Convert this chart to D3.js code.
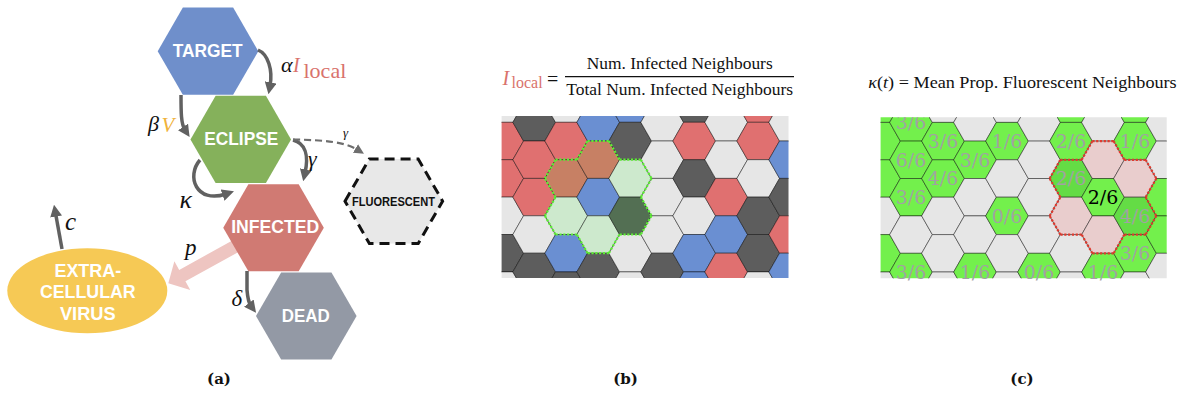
<!DOCTYPE html>
<html><head><meta charset="utf-8">
<script src="https://cdn.jsdelivr.net/npm/d3@7"></script>
<style>body{margin:0;background:#fff}svg{display:block}</style>
</head><body><div id="chart"></div>
<script>
// ---------------- DATA ----------------
// Panel (a) compartments
const compartments = ["TARGET", "ECLIPSE", "INFECTED", "DEAD"];
const extraNode = "FLUORESCENT";
const virusLines = ["EXTRA-", "CELLULAR", "VIRUS"];
// Panel (b) grid: one string per column, top to bottom. G=target(grey) R=infected B=eclipse D=dead
const gridB = ["GRRGDG", "DRRGD", "GRRGBD", "BRBGD", "BDGDGG", "GGGGD", "DRDGBB", "GGRBR", "RRGDDG", "GBDRB"];
const centerB = [3, 2];
// Panel (c) grid: F=fluorescent N=not fluorescent
const gridC = ["FFFNFN", "FFFNF", "NFFNNN", "NFNNF", "NFNFNN", "NNNNF", "FFFNNN", "NNFNF", "FFNFFN", "NNFFN"];
const centerC = [7, 2];
const labelsC = [[1,0,"3/6"],[1,1,"6/6"],[1,2,"3/6"],[1,4,"3/6"],[2,1,"3/6"],[2,2,"4/6"],[3,1,"3/6"],[3,4,"1/6"],
  [4,1,"1/6"],[4,3,"0/6"],[5,4,"0/6"],[6,1,"2/6"],[6,2,"2/6"],[7,2,"2/6"],[7,4,"1/6"],[8,1,"1/6"],[8,3,"4/6"],[8,4,"3/6"]];
const panelLabels = ["(a)", "(b)", "(c)"];

// ---------------- SETUP ----------------
const W = 1184, H = 410;
const svg = d3.select("#chart").append("svg").attr("width", W).attr("height", H);
svg.append("rect").attr("width", W).attr("height", H).attr("fill", "#fff");
const defs = svg.append("defs");
const SERIF = "Liberation Serif, serif", SANS = "Liberation Sans, Arial, sans-serif";

function hexPoints(cx, cy, rx, hy) {
  return [[cx - rx, cy], [cx - rx / 2, cy - hy], [cx + rx / 2, cy - hy], [cx + rx, cy], [cx + rx / 2, cy + hy], [cx - rx / 2, cy + hy]];
}
const lineGen = d3.line();
const hexPath = (cx, cy, rx, hy) => lineGen(hexPoints(cx, cy, rx, hy)) + "Z";

function marker(id, color, size) {
  defs.append("marker").attr("id", id).attr("viewBox", "0 0 10 10").attr("refX", 3).attr("refY", 5)
    .attr("markerWidth", size).attr("markerHeight", size).attr("markerUnits", "userSpaceOnUse").attr("orient", "auto")
    .append("path").attr("d", "M0,0 L10,5 L0,10 Z").attr("fill", color);
}
marker("arr", "#616161", 12);
marker("arrD", "#6e6e6e", 10);

// ---------------- PANEL (a) ----------------
const A = svg.append("g");
const nodeFill = { TARGET: "#6f8fcb", ECLIPSE: "#85b15b", INFECTED: "#d07a73", DEAD: "#9399a5" };
const ax = d3.scaleLinear().domain([0, 3]).range([208, 306.3]);
const ay = d3.scaleLinear().domain([0, 3]).range([51.2, 316]);
const HR = 50.3, HH = 43.6;
const textLen = { TARGET: 70, ECLIPSE: 74, INFECTED: 88, DEAD: 48 };

A.append("ellipse").attr("cx", 87.3).attr("cy", 290.8).attr("rx", 80).attr("ry", 42.5).attr("fill", "#f6c955");
virusLines.forEach((t, i) => {
  A.append("text").attr("x", 87.8).attr("y", 276.7 + i * 21.7).attr("text-anchor", "middle")
    .attr("font-family", SANS).attr("font-weight", "bold").attr("font-size", 18).attr("fill", "#fff")
    .attr("textLength", [66.7, 95.7, 55.7][i]).attr("lengthAdjust", "spacingAndGlyphs").text(t);
});

// p arrow (thick, pink), behind INFECTED
(function () {
  const S = [245, 241], T = [168.3, 283.3];
  const dx = T[0] - S[0], dy = T[1] - S[1], len = Math.hypot(dx, dy);
  const u = [dx / len, dy / len], n = [-u[1], u[0]];
  const L = 16, hw = 16.4, w = 6.5;
  const B = [T[0] - L * u[0], T[1] - L * u[1]];
  const P = (p, s) => [p[0] + n[0] * s, p[1] + n[1] * s];
  A.append("path").attr("d", lineGen([P(S, w), P(B, w), P(B, hw), T, P(B, -hw), P(B, -w), P(S, -w)]) + "Z")
    .attr("fill", "#eec5c1");
})();

compartments.forEach((name, i) => {
  A.append("path").attr("d", hexPath(ax(i), ay(i), HR, HH)).attr("fill", nodeFill[name]);
  A.append("text").attr("x", ax(i) + [-0.3, 0.5, 1.7, -0.5][i]).attr("y", ay(i) + 5.7).attr("text-anchor", "middle")
    .attr("font-family", SANS).attr("font-weight", "bold").attr("font-size", 18).attr("fill", "#fff")
    .attr("textLength", textLen[name]).attr("lengthAdjust", "spacingAndGlyphs").text(name);
});
A.append("path").attr("d", hexPath(393.8, 201.2, HR - 1.5, HH - 1.3)).attr("fill", "#e8e8e8")
  .attr("stroke", "#111").attr("stroke-width", 3).attr("stroke-dasharray", "10,6");
A.append("text").attr("x", 393.5).attr("y", 206).attr("text-anchor", "middle").attr("font-family", SANS)
  .attr("font-weight", "bold").attr("font-size", 12).attr("fill", "#111").attr("textLength", 83)
  .attr("lengthAdjust", "spacingAndGlyphs").text(extraNode);

const arrows = [
  { d: "M258,50 C268,54 273,70 270,86" },
  { d: "M181,95 C181,112 181,124 185,130" },
  { d: "M293,140 C305,143 309,155 305,173" },
  { d: "M293,139.5 C325,140 345,142 358,150", dashed: true },
  { d: "M200,160 C186,176 196,204 226,194" },
  { d: "M247,271 L247,290 Q248,302 251,306" },
  { d: "M62,249 L55.5,213" }
];
arrows.forEach(a => {
  A.append("path").attr("d", a.d).attr("fill", "none")
    .attr("stroke", a.dashed ? "#6e6e6e" : "#616161").attr("stroke-width", a.dashed ? 2.2 : 3.5)
    .attr("stroke-dasharray", a.dashed ? "7,4" : null)
    .attr("marker-end", a.dashed ? "url(#arrD)" : "url(#arr)");
});

const mathLabels = [
  { t: "α", x: 281, y: 72, s: 22, c: "#111", it: true },
  { t: "I", x: 293, y: 72, s: 20, c: "#d9726c", it: true },
  { t: "local", x: 303.5, y: 78, s: 22, c: "#d9726c", it: false },
  { t: "β", x: 148, y: 131, s: 22, c: "#111", it: true },
  { t: "V", x: 161.5, y: 131.5, s: 21, c: "#f0b23a", it: true },
  { t: "γ", x: 308, y: 166, s: 22, c: "#111", it: true },
  { t: "γ", x: 343, y: 137, s: 13, c: "#111", it: true },
  { t: "κ", x: 179.5, y: 208, s: 26, c: "#111", it: true },
  { t: "p", x: 185, y: 255, s: 23, c: "#111", it: true },
  { t: "δ", x: 231.5, y: 306, s: 23, c: "#111", it: true },
  { t: "c", x: 65, y: 230, s: 25, c: "#111", it: true }
];
mathLabels.forEach(m => {
  A.append("text").attr("x", m.x).attr("y", m.y).attr("font-family", SERIF).attr("font-size", m.s)
    .attr("font-style", m.it ? "italic" : "normal").attr("fill", m.c).text(m.t);
});

// ---------------- GRID HELPER ----------------
const RX = 32 / 1.5, HY = 18.7;
function drawGrid(o) {
  defs.append("clipPath").attr("id", o.clipId).append("rect")
    .attr("x", o.clip[0]).attr("y", o.clip[1]).attr("width", o.clip[2]).attr("height", o.clip[3]);
  const g = svg.append("g").attr("clip-path", `url(#${o.clipId})`);
  const cells = [];
  o.cols.forEach((s, c) => s.split("").forEach((code, k) => {
    cells.push({ c, k, code, cx: o.x(c), cy: o.y(k + (c % 2 ? 0.5 : 0)) });
  }));
  const ctr = cells.find(d => d.c === o.center[0] && d.k === o.center[1]);
  cells.forEach(d => { d.nb = d !== ctr && Math.hypot(d.cx - ctr.cx, d.cy - ctr.cy) < 45; });
  g.selectAll("path.cell").data(cells).join("path").attr("class", "cell")
    .attr("d", d => hexPath(d.cx, d.cy, RX, HY))
    .attr("fill", d => d.nb ? o.hiFill[d.code] : o.fill[d.code])
    .attr("stroke", "rgba(0,0,0,0.45)").attr("stroke-width", 1);
  const group = cells.filter(d => d.nb || d === ctr);
  const segs = [];
  cells.filter(d => d.nb).forEach(d => {
    const p = hexPoints(d.cx, d.cy, RX, HY);
    for (let i = 0; i < 6; i++) {
      const a = p[i], b = p[(i + 1) % 6];
      const nx = a[0] + b[0] - d.cx, ny = a[1] + b[1] - d.cy;
      if (!group.some(e => Math.hypot(e.cx - nx, e.cy - ny) < 5)) segs.push([a, b]);
    }
  });
  g.selectAll("line.ol").data(segs).join("line").attr("class", "ol")
    .attr("x1", d => d[0][0]).attr("y1", d => d[0][1]).attr("x2", d => d[1][0]).attr("y2", d => d[1][1])
    .attr("stroke", o.outline).attr("stroke-width", 2.2).attr("stroke-dasharray", "2.2,1.6");
  return cells;
}

// ---------------- PANEL (b) ----------------
const xb = d3.scaleLinear().domain([0, 1]).range([502.2, 534.2]);
const yb = d3.scaleLinear().domain([0, 1]).range([103.6, 141]);
const fillB = { G: "#e6e6e6", R: "#e07070", B: "#6a8fd2", D: "#5d5d5d" };
const hiB = {}; Object.keys(fillB).forEach(k => hiB[k] = d3.interpolateRgb(fillB[k], "#00ff00")(0.11));
drawGrid({ cols: gridB, x: xb, y: yb, clipId: "clipB", clip: [501.6, 116, 286.9, 162], center: centerB,
  fill: fillB, hiFill: hiB, outline: "#5ded35" });

const B = svg.append("g");
B.append("text").attr("x", 502.5).attr("y", 85).attr("font-family", SERIF).attr("font-style", "italic")
  .attr("font-size", 20).attr("fill", "#d9726c").text("I");
B.append("text").attr("x", 511.5).attr("y", 87.5).attr("font-family", SERIF).attr("font-size", 16)
  .attr("fill", "#d9726c").text("local");
B.append("text").attr("x", 547).attr("y", 86).attr("font-family", SERIF).attr("font-size", 20).attr("fill", "#111").text("=");
B.append("text").attr("x", 679.7).attr("y", 69).attr("text-anchor", "middle").attr("font-family", SERIF)
  .attr("font-size", 17).attr("fill", "#111").attr("textLength", 186).attr("lengthAdjust", "spacingAndGlyphs")
  .text("Num. Infected Neighbours");
B.append("line").attr("x1", 565).attr("x2", 794).attr("y1", 76.7).attr("y2", 76.7).attr("stroke", "#111").attr("stroke-width", 1.3);
B.append("text").attr("x", 679.7).attr("y", 95).attr("text-anchor", "middle").attr("font-family", SERIF)
  .attr("font-size", 17).attr("fill", "#111").attr("textLength", 227).attr("lengthAdjust", "spacingAndGlyphs")
  .text("Total Num. Infected Neighbours");

// ---------------- PANEL (c) ----------------
const xc = d3.scaleLinear().domain([0, 1]).range([879, 911]);
const yc = d3.scaleLinear().domain([0, 1]).range([103.7, 141.1]);
drawGrid({ cols: gridC, x: xc, y: yc, clipId: "clipC", clip: [880.6, 117.2, 286.1, 161.1], center: centerC,
  fill: { F: "#73f04c", N: "#e6e6e6" }, hiFill: { F: "#64dc45", N: "#e9cdcd" }, outline: "#e03a2e" });
defs.append("clipPath").attr("id", "clipCL").append("rect").attr("x", 880.6).attr("y", 117.2).attr("width", 286.1).attr("height", 175);
const CL = svg.append("g").attr("clip-path", "url(#clipCL)");
CL.selectAll("text").data(labelsC).join("text")
  .attr("x", d => xc(d[0])).attr("y", d => yc(d[1] + (d[0] % 2 ? 0.5 : 0)) + 6.9)
  .attr("text-anchor", "middle").attr("font-family", "DejaVu Serif, serif").attr("font-size", 19)
  .attr("fill", d => (d[0] === centerC[0] && d[1] === centerC[1]) ? "#000" : "#a2a2a2").text(d => d[2]);

const ct = svg.append("text").attr("x", 868.3).attr("y", 88.3).attr("font-family", SERIF).attr("font-size", 17)
  .attr("fill", "#111").attr("textLength", 308.4).attr("lengthAdjust", "spacingAndGlyphs");
ct.append("tspan").attr("font-style", "italic").text("κ");
ct.append("tspan").text("(");
ct.append("tspan").attr("font-style", "italic").text("t");
ct.append("tspan").text(") = Mean Prop. Fluorescent Neighbours");

// ---------------- PANEL LABELS ----------------
const px = d3.scalePoint().domain(panelLabels).range([219, 1022]);
svg.selectAll("text.plab").data(panelLabels).join("text").attr("class", "plab")
  .attr("x", d => px(d) + (d === "(b)" ? 5 : 0)).attr("y", 384).attr("text-anchor", "middle")
  .attr("font-family", "DejaVu Serif, serif").attr("font-weight", "bold").attr("font-size", 15).attr("fill", "#111").text(d => d);
</script>
</body></html>
